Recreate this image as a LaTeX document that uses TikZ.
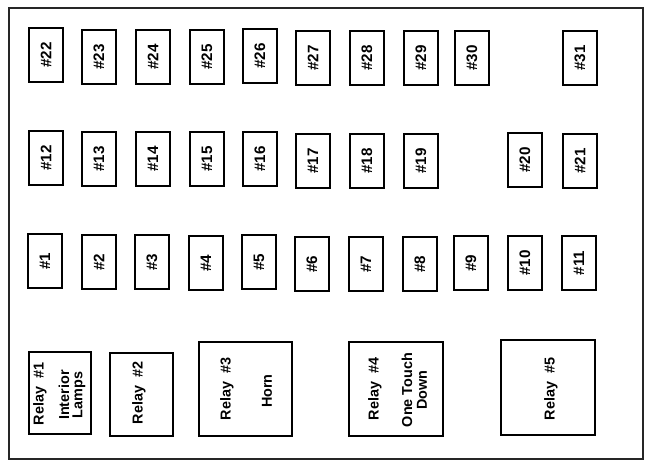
\documentclass[tikz,border=0pt]{standalone}
\usepackage{fontspec}
\setmainfont{Liberation Sans}
\begin{document}
\begin{tikzpicture}[x=0.75pt,y=-0.75pt,
  frame/.style={draw=black!85,line width=1.6pt},
  fuse/.style={draw=black,line width=1.5pt,minimum width=25.5pt,minimum height=40.5pt,inner sep=0pt,font=\fontsize{11.4}{13}\selectfont\bfseries},
  relaybox/.style={draw=black,line width=1.5pt},
  rlabel/.style={inner sep=0pt,font=\fontsize{10.8}{12}\selectfont\bfseries,rotate=90,align=center}]
\useasboundingbox (0,0) rectangle (650,464);
\draw[frame] (9,8) rectangle (643,459);
% fuses
\foreach \n/\x/\y in {22/46/55,23/99/57,24/153/57,25/207/57,26/260/56,27/313/58,28/367/58,29/421/58,30/472/58,31/580/58,
  12/46/158,13/99/159,14/153/159,15/207/159,16/260/159,17/313/161,18/367/161,19/421/161,20/525/160,21/580/161,
  1/45/261,2/99/262,3/152/262,4/206/263,5/259/262,6/312/264,7/366/264,8/420/264,9/471/263,10/525/263,11/579/263}
  \node[fuse] (f\n) at (\x,\y) {\rotatebox{90}{\#\n}};
% relays
\draw[relaybox] (29,352) rectangle (91,434) coordinate (r1);
\draw[relaybox] (110,353) rectangle (173,436) coordinate (r2);
\draw[relaybox] (199,342) rectangle (292,436) coordinate (r3);
\draw[relaybox] (349,342) rectangle (443,436) coordinate (r4);
\draw[relaybox] (501,340) rectangle (595,435) coordinate (r5);
\node[rlabel] (r1a) at (40,394) {Relay\hspace{0.55em}\#1};
\node[rlabel] (r1b) at (64,395) {Interior};
\node[rlabel] (r1c) at (79,395) {Lamps};
\node[rlabel] (r2a) at (139,393) {Relay\hspace{0.55em}\#2};
\node[rlabel] (r3a) at (227,389) {Relay\hspace{0.55em}\#3};
\node[rlabel] (r3b) at (267,391) {Horn};
\node[rlabel] (r4a) at (375,389) {Relay\hspace{0.55em}\#4};
\node[rlabel] (r4b) at (407,390) {One Touch};
\node[rlabel] (r4c) at (422,390) {Down};
\node[rlabel] (r5a) at (551,389) {Relay\hspace{0.55em}\#5};
\end{tikzpicture}
\end{document}
